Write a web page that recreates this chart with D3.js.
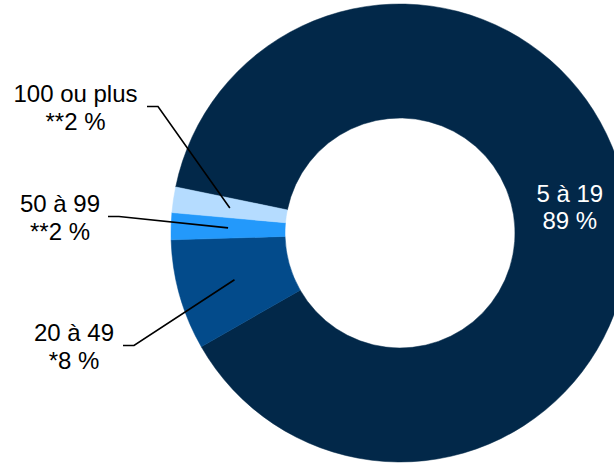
<!DOCTYPE html>
<html><head><meta charset="utf-8">
<script src="https://cdn.jsdelivr.net/npm/d3@7"></script>
<style>body{margin:0;background:#fff}svg{display:block}</style>
</head><body>
<svg id="c" width="614" height="464"></svg>
<script>
// Data
const categories = ["5 à 19", "20 à 49", "50 à 99", "100 ou plus"];
const values = [88.5, 7.8, 1.9, 1.8];
const valueLabels = ["89 %", "*8 %", "**2 %", "**2 %"];
const colors = ["#022849", "#034B8B", "#2399FB", "#B5DCFF"];

// Layout
const W = 614, H = 464;
const cx = 400, cy = 233, R = 229, r = 115;
const startDeg = 281.6;
// outside label anchors (text centre x, first baseline y, leader start x)
const outside = {
  1: {x: 74, y: 341, lx: 123},
  2: {x: 60, y: 212, lx: 108},
  3: {x: 75.5, y: 102, lx: 147}
};

const svg = d3.select("#c");
const g = svg.append("g").attr("transform", `translate(${cx},${cy})`);
const data = categories.map((c, i) => ({c, v: values[i], lab: valueLabels[i], col: colors[i], i}));
const pie = d3.pie().sort(null).value(d => d.v)
  .startAngle(startDeg * Math.PI / 180)
  .endAngle(startDeg * Math.PI / 180 + 2 * Math.PI);
const arc = d3.arc().innerRadius(r).outerRadius(R);
const arcs = pie(data);

g.selectAll("path.s").data(arcs).join("path")
  .attr("class", "s")
  .attr("d", arc)
  .attr("fill", d => d.data.col)
  .attr("stroke", d => d.data.col)
  .attr("stroke-width", 0.5);

const font = "'Liberation Sans', Arial, sans-serif";
const fs = 24, lh = 27.5;

arcs.forEach(a => {
  const [px, py] = arc.centroid(a);
  const i = a.data.i;
  if (i === 0) {
    const t = svg.append("text").attr("text-anchor", "middle")
      .attr("font-family", font).attr("font-size", fs).attr("fill", "#fff");
    t.append("tspan").attr("x", cx + px).attr("y", cy + py - 4).text(a.data.c);
    t.append("tspan").attr("x", cx + px).attr("y", cy + py - 4 + lh).text(a.data.lab);
  } else {
    const o = outside[i];
    const ly = o.y + 4.5;
    svg.append("polyline")
      .attr("points", [[o.lx, ly], [o.lx + 11, ly], [cx + px, cy + py]].map(p => p.join(",")).join(" "))
      .attr("fill", "none").attr("stroke", "#000").attr("stroke-width", 1.6);
    const t = svg.append("text").attr("text-anchor", "middle")
      .attr("font-family", font).attr("font-size", fs).attr("fill", "#000");
    t.append("tspan").attr("x", o.x).attr("y", o.y).text(a.data.c);
    t.append("tspan").attr("x", o.x).attr("y", o.y + lh).text(a.data.lab);
  }
});
</script>
</body></html>
